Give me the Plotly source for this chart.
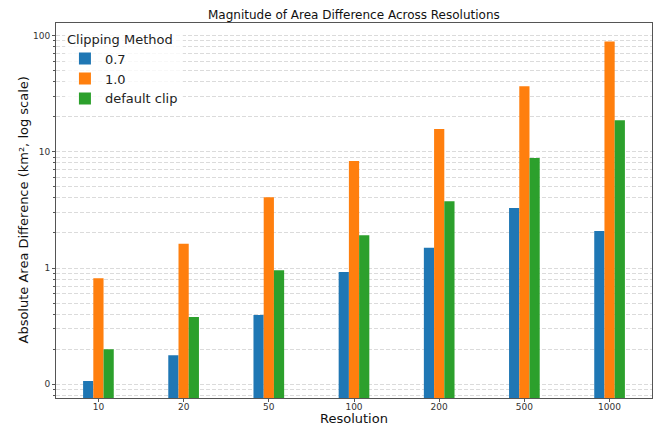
import plotly.graph_objects as go

resolutions = ["10", "20", "50", "100", "200", "500", "1000"]
clip_07 = [0.107, 0.178, 0.394, 0.926, 1.49, 3.28, 2.08]
clip_10 = [0.817, 1.62, 4.05, 8.3, 15.7, 36.6, 88.5]
clip_default = [0.2, 0.38, 0.957, 1.91, 3.74, 8.81, 18.6]
series_names = ["0.7", "1.0", "default clip"]
colors = ["#1f77b4", "#ff7f0e", "#2ca02c"]
y_tickvals = [0.1, 1, 10, 100]
y_ticktext = ["0", "1", "10", "100"]

minor_vals = [0.08, 0.09] + [m * d for d in (0.1, 1, 10) for m in range(2, 10)]

fig = go.Figure()
for name, vals, c in zip(series_names, [clip_07, clip_10, clip_default], colors):
    fig.add_trace(go.Bar(x=resolutions, y=vals, name=name, marker=dict(color=c, line=dict(width=0))))

grid_color = "rgba(190,190,190,0.55)"
dash = "4px,2px"
fig.update_layout(
    width=654, height=425,
    margin=dict(l=56, r=2, t=23, b=27, autoexpand=False),
    paper_bgcolor="white", plot_bgcolor="white",
    font=dict(family="DejaVu Sans", color="#222"),
    barmode="group", bargap=0.64, bargroupgap=0,
    legend=dict(x=0.015, y=0.99, xanchor="left", yanchor="top", bgcolor="rgba(255,255,255,0.8)",
                title=dict(text="Clipping Method", font=dict(size=13)), font=dict(size=13),
                tracegroupgap=0, itemwidth=30),
    showlegend=True,
    annotations=[
        dict(text="Magnitude of Area Difference Across Resolutions", xref="paper", yref="paper",
             x=0.5, y=1, yshift=8, xanchor="center", yanchor="middle", showarrow=False,
             font=dict(size=12, color="#111")),
        dict(text="Resolution", xref="paper", yref="paper", x=0.5, y=0, yshift=-20,
             xanchor="center", yanchor="middle", showarrow=False, font=dict(size=13, color="#111")),
        dict(text="Absolute Area Difference (km², log scale)", xref="paper", yref="paper",
             x=0, xshift=-33, y=0.5, xanchor="center", yanchor="middle", textangle=-90,
             showarrow=False, font=dict(size=13, color="#111")),
    ],
)
fig.update_xaxes(
    type="category", range=[-0.498, 6.498], automargin=False,
    showline=True, linecolor="#555", linewidth=1, mirror=True,
    ticks="outside", ticklen=3, tickcolor="#555", tickfont=dict(size=9, color="#333"),
    ticklabelstandoff=-3,
    showgrid=False,
)
fig.update_yaxes(
    type="log", range=[-1.1176, 2.1064], automargin=False,
    tickvals=y_tickvals, ticktext=y_ticktext,
    showline=True, linecolor="#555", linewidth=1, mirror=True,
    ticks="outside", ticklen=3, tickcolor="#555", tickfont=dict(size=9, color="#333"),
    showgrid=True, gridcolor=grid_color, griddash=dash, gridwidth=1,
    minor=dict(tickvals=minor_vals, showgrid=True, gridcolor=grid_color, griddash=dash,
               gridwidth=1, ticks="outside", ticklen=2, tickcolor="#555"),
    zeroline=False,
)
fig.write_html("out.html", config={"displayModeBar": False},
               post_script="document.body.style.margin='0';")
